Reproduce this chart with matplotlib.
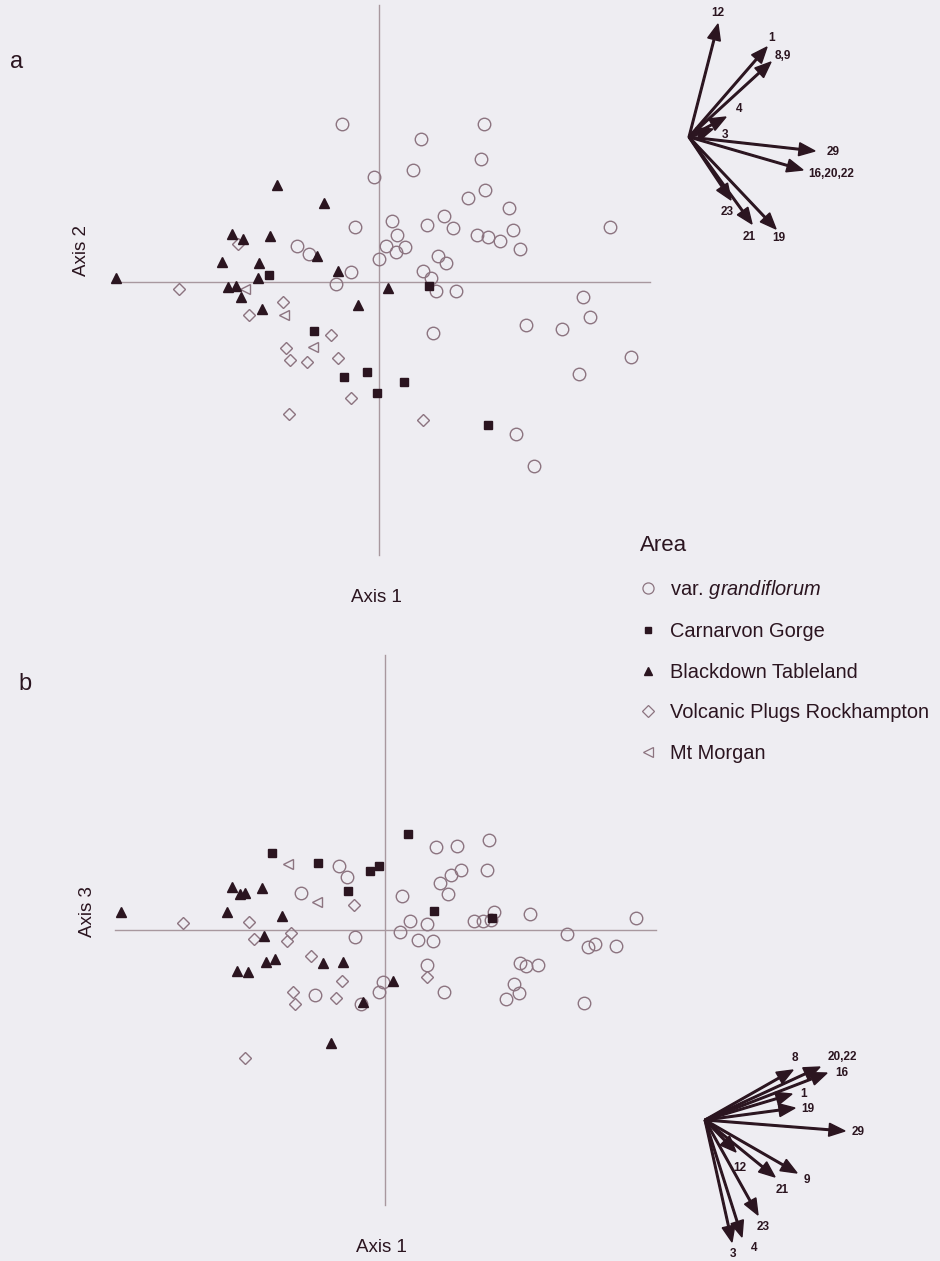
import matplotlib
matplotlib.use("Agg")
import matplotlib.pyplot as plt
from matplotlib.lines import Line2D

plt.rcParams['font.family'] = ['Liberation Sans', 'DejaVu Sans']
plt.rcParams['mathtext.fontset'] = 'custom'
plt.rcParams['mathtext.it'] = 'Liberation Sans:italic'
plt.rcParams['mathtext.rm'] = 'Liberation Sans'

# ---- panel a: axis 1 vs axis 2 scores ----
a_grand = [(-0.37, 1.58), (-0.05, 1.05), (-0.24, 0.55), (-0.82, 0.36), (-0.70, 0.28),
           (-0.28, 0.10), (-0.43, -0.02), (0.00, 0.23), (1.05, 1.58), (0.42, 1.43),
           (1.02, 1.23), (0.34, 1.12), (1.06, 0.92), (0.89, 0.84), (1.30, 0.74),
           (0.13, 0.61), (0.48, 0.57), (0.65, 0.66), (0.74, 0.54), (0.18, 0.47),
           (0.98, 0.47), (1.09, 0.45), (1.21, 0.41), (1.34, 0.52), (2.31, 0.55),
           (0.07, 0.36), (0.26, 0.35), (0.17, 0.30), (1.41, 0.33), (0.59, 0.26),
           (0.67, 0.19), (0.44, 0.11), (0.52, 0.04), (0.57, -0.09), (0.77, -0.09),
           (2.04, -0.15), (2.11, -0.35), (1.47, -0.43), (1.83, -0.47), (0.54, -0.51),
           (2.52, -0.75), (2.00, -0.92), (1.37, -1.52), (1.55, -1.84)]
a_carn = [(-1.10, 0.07), (-0.65, -0.49), (-0.35, -0.95), (-0.12, -0.90), (-0.02, -1.11),
          (0.25, -1.00), (0.50, -0.04), (1.09, -1.43)]
a_black = [(-2.63, 0.04), (-1.02, 0.97), (-0.55, 0.79), (-1.47, 0.48), (-1.36, 0.43),
           (-1.09, 0.46), (-0.62, 0.26), (-1.57, 0.20), (-1.20, 0.19), (-1.21, 0.04),
           (-0.41, 0.11), (-1.51, -0.05), (-1.43, -0.04), (-1.38, -0.15), (-1.17, -0.27),
           (-0.21, -0.23), (0.09, -0.06)]
a_volc = [(-2.00, -0.07), (-1.41, 0.38), (-0.96, -0.20), (-1.30, -0.33), (-0.48, -0.53),
          (-0.93, -0.66), (-0.89, -0.78), (-0.72, -0.80), (-0.41, -0.76), (-0.28, -1.16),
          (-0.90, -1.32), (0.44, -1.38)]
a_morgan = [(-1.34, -0.07), (-0.95, -0.33), (-0.66, -0.65)]

# character vectors, panel a
a_vec_labels = ['12', '1', '8,9', '4', '3', '29', '16,20,22', '23', '21', '19']
a_vec = [(0.29, 1.13), (0.78, 0.90), (0.82, 0.75), (0.37, 0.20), (0.24, 0.08),
         (1.26, -0.14), (1.14, -0.33), (0.42, -0.63), (0.63, -0.87), (0.87, -0.92)]
a_lab_off = [(0, 11), (5, 9), (12, 6), (13, 8), (12, -6), (18, -1), (28, -4),
             (-4, -12), (-3, -13), (3, -9)]

# ---- panel b: axis 1 vs axis 3 scores ----
b_grand = [(-0.46, 0.64), (-0.38, 0.53), (-0.84, 0.37), (-0.30, -0.07), (-0.02, -0.52),
           (-0.06, -0.62), (-0.70, -0.65), (-0.24, -0.74), (0.51, 0.83), (0.72, 0.84),
           (1.04, 0.90), (1.02, 0.60), (0.76, 0.60), (0.66, 0.55), (0.55, 0.47),
           (0.63, 0.36), (0.17, 0.34), (1.09, 0.18), (1.45, 0.16), (2.51, 0.12),
           (0.25, 0.09), (0.42, 0.06), (0.89, 0.09), (0.98, 0.09), (1.06, 0.10),
           (0.15, -0.02), (0.33, -0.10), (0.48, -0.11), (1.82, -0.04), (2.03, -0.17),
           (2.10, -0.14), (2.31, -0.16), (0.42, -0.35), (1.35, -0.33), (1.41, -0.36),
           (1.53, -0.35), (0.59, -0.62), (1.29, -0.54), (1.34, -0.63), (1.21, -0.69),
           (1.99, -0.73)]
b_carn = [(-1.13, 0.77), (-0.67, 0.67), (-0.15, 0.59), (-0.06, 0.64), (-0.37, 0.39),
          (0.23, 0.96), (0.49, 0.19), (1.07, 0.12)]
b_black = [(-2.64, 0.18), (-1.53, 0.43), (-1.45, 0.36), (-1.40, 0.37), (-1.23, 0.42),
           (-1.58, 0.18), (-1.03, 0.14), (-1.21, -0.06), (-1.19, -0.32), (-1.10, -0.29),
           (-1.48, -0.41), (-1.37, -0.42), (-0.62, -0.33), (-0.42, -0.32), (-0.22, -0.72),
           (0.08, -0.51), (-0.54, -1.13)]
b_volc = [(-2.02, 0.07), (-1.36, 0.08), (-1.31, -0.09), (-0.94, -0.03), (-0.98, -0.11),
          (-0.74, -0.26), (-0.31, 0.25), (-0.43, -0.51), (-0.92, -0.62), (-0.90, -0.74),
          (-0.49, -0.68), (-1.40, -1.28), (0.42, -0.47)]
b_morgan = [(-0.97, 0.66), (-0.68, 0.28)]

b_vec_labels = ['8', '20,22', '16', '1', '19', '29', '12', '21', '9', '23', '4', '3']
b_vec = [(0.88, 0.50), (1.15, 0.53), (1.22, 0.47), (0.87, 0.26), (0.90, 0.12),
         (1.40, -0.11), (0.31, -0.32), (0.70, -0.57), (0.92, -0.53), (0.53, -0.95),
         (0.37, -1.17), (0.27, -1.22)]
b_lab_off = [(2, 12), (22, 10), (15, 0), (12, 0), (13, -1), (13, -1), (4, -16),
             (7, -13), (10, -7), (5, -12), (12, -11), (1, -12)]

area_names = ['var. $\\it{grandiflorum}$', 'Carnarvon Gorge', 'Blackdown Tableland',
              'Volcanic Plugs Rockhampton', 'Mt Morgan']

BG = '#eeedf2'
DARK = '#2b1520'
OPEN = '#8c7480'
LINE = '#a8989f'

W, H = 940, 1261
fig = plt.figure(figsize=(W / 100, H / 100), dpi=100, facecolor=BG)


def fx(px):
    return px / W


def fy(py):
    return 1 - py / H


def draw_panel(ax, grand, carn, black, volc, morgan, cross, vec_origin, vecs, labels, offs):
    ax.set_facecolor(BG)
    ax.axis('off')
    (x0, x1), (y0, y1) = cross
    ax.plot([x0, x1], [0, 0], color=LINE, lw=1.0, zorder=1)
    ax.plot([0, 0], [y0, y1], color=LINE, lw=1.0, zorder=1)
    style = dict(ls='none', zorder=3)
    ax.plot(*zip(*grand), marker='o', ms=9, mfc='none', mec=OPEN, mew=1.0, **style)
    ax.plot(*zip(*volc), marker='D', ms=6.5, mfc='none', mec=OPEN, mew=1.0, **style)
    ax.plot(*zip(*morgan), marker='<', ms=7, mfc='none', mec=OPEN, mew=1.0, **style)
    ax.plot(*zip(*carn), marker='s', ms=5.5, mfc=DARK, mec=DARK, **style)
    ax.plot(*zip(*black), marker='^', ms=6.5, mfc=DARK, mec=DARK, **style)
    ox, oy = vec_origin
    for (dx, dy), lab, off in zip(vecs, labels, offs):
        ax.arrow(ox, oy, dx, dy, width=0.016, head_width=0.13, head_length=0.16,
                 length_includes_head=True, color=DARK, zorder=4)
        ax.annotate(lab, (ox + dx, oy + dy), xytext=off, textcoords='offset pixels',
                    ha='center', va='center', fontsize=8.5, fontweight='bold', color=DARK)


# panel a: 1 data unit = 100 px, origin at (379, 282)
ax_a = fig.add_axes([0, fy(600), 1, 600 / H])
ax_a.set_xlim(-3.79, 5.61)
ax_a.set_ylim(-3.18, 2.82)
draw_panel(ax_a, a_grand, a_carn, a_black, a_volc, a_morgan,
           ((-2.64, 2.71), (2.77, -2.73)), (3.10, 1.45), a_vec, a_vec_labels, a_lab_off)

# panel b: origin at (385, 930)
ax_b = fig.add_axes([0, 0, 1, 641 / H])
ax_b.set_xlim(-3.85, 5.55)
ax_b.set_ylim(-3.31, 3.10)
draw_panel(ax_b, b_grand, b_carn, b_black, b_volc, b_morgan,
           ((-2.70, 2.71), (2.75, -2.75)), (3.20, -1.90), b_vec, b_vec_labels, b_lab_off)

# panel letters and axis titles
tkw = dict(color=DARK, ha='center', va='center')
fig.text(fx(17), fy(62), 'a', fontsize=17, **tkw)
fig.text(fx(25), fy(684), 'b', fontsize=17, **tkw)
fig.text(fx(82), fy(250), 'Axis 2', fontsize=13.5, rotation=90, **tkw)
fig.text(fx(376), fy(598), 'Axis 1', fontsize=13.5, **tkw)
fig.text(fx(88), fy(912), 'Axis 3', fontsize=13.5, rotation=90, **tkw)
fig.text(fx(381), fy(1248), 'Axis 1', fontsize=13.5, **tkw)

# legend
handles = [
    Line2D([], [], ls='none', marker='o', ms=8, mfc='none', mec=OPEN, mew=0.9),
    Line2D([], [], ls='none', marker='s', ms=5, mfc=DARK, mec=DARK),
    Line2D([], [], ls='none', marker='^', ms=6, mfc=DARK, mec=DARK),
    Line2D([], [], ls='none', marker='D', ms=6, mfc='none', mec=OPEN, mew=0.9),
    Line2D([], [], ls='none', marker='<', ms=6.5, mfc='none', mec=OPEN, mew=0.9),
]
leg = fig.legend(handles, area_names, title='Area', loc='upper left',
                 bbox_to_anchor=(fx(622), fy(517)), frameon=False, fontsize=14.4,
                 title_fontsize=16, labelspacing=1.08, handlelength=0.8,
                 handletextpad=0.7, alignment='left', borderpad=0.4)
for t in leg.get_texts():
    t.set_color(DARK)
leg.get_title().set_color(DARK)

fig.savefig('out.png', dpi=100, facecolor=BG)
